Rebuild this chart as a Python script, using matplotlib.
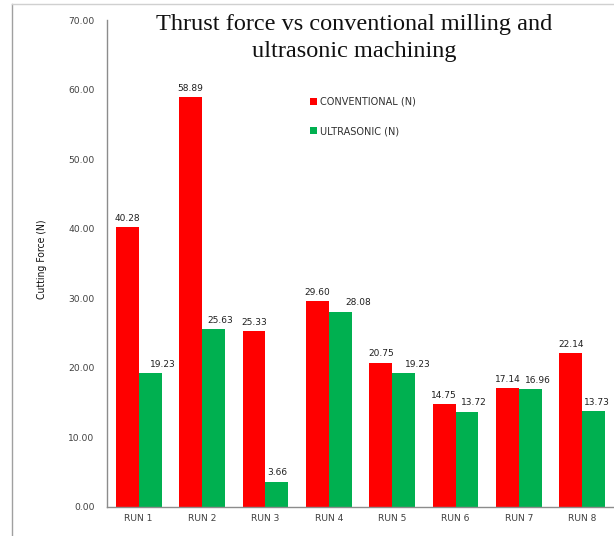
import numpy as np
import matplotlib.pyplot as plt
from matplotlib.lines import Line2D

# datos de las corridas
runs = ['RUN 1', 'RUN 2', 'RUN 3', 'RUN 4', 'RUN 5', 'RUN 6', 'RUN 7', 'RUN 8']
conventional = [40.28, 58.89, 25.33, 29.60, 20.75, 14.75, 17.14, 22.14]
ultrasonic = [19.23, 25.63, 3.66, 28.08, 19.23, 13.72, 16.96, 13.73]
yticks = [0, 10, 20, 30, 40, 50, 60, 70]

# desplazamiento horizontal (px) de las etiquetas verdes
green_dx = [13, 7, 0, 18, 14, 7, 8, 3]

W, H = 614, 536
fig = plt.figure(figsize=(W / 100, H / 100), dpi=100)
ax = fig.add_axes([107 / W, 29 / H, (W - 107) / W, 487 / H])

x = np.arange(len(runs))
w = 0.36
b1 = ax.bar(x - w / 2, conventional, w, color='#ff0000', label='CONVENTIONAL (N)')
b2 = ax.bar(x + w / 2, ultrasonic, w, color='#00b050', label='ULTRASONIC (N)')

for bars, vals, dx in ((b1, conventional, [0] * len(runs)), (b2, ultrasonic, green_dx)):
    for r, v, d in zip(bars, vals, dx):
        ax.annotate('%.2f' % v, (r.get_x() + r.get_width() / 2, v),
                    xytext=(d * 0.72, 3), textcoords='offset points',
                    ha='center', va='bottom', fontsize=6.5, color='#202020')

ax.set_xlim(-0.5, len(runs) - 0.5)
ax.set_ylim(0, 70)
ax.set_yticks(yticks)
ax.set_yticklabels(['%.2f' % t for t in yticks])
ax.set_xticks(x)
ax.set_xticklabels(runs)
ax.tick_params(axis='both', length=0, labelsize=6.6, labelcolor='#404040')
ax.tick_params(axis='y', pad=9)
ax.tick_params(axis='x', pad=5)
for s in ('top', 'right'):
    ax.spines[s].set_visible(False)
for s in ('left', 'bottom'):
    ax.spines[s].set_color('#8c8c8c')
    ax.spines[s].set_linewidth(1)

fig.text(42 / W, 1 - 259 / H, 'Cutting Force (N)', rotation=90,
         ha='center', va='center', fontsize=7.5, color='#101010',
         family=['Liberation Sans Narrow', 'DejaVu Sans'], fontstretch='condensed')

fig.text(354 / W, 1 - 38 / H, 'Thrust force vs conventional milling and\nultrasonic machining',
         ha='center', va='center', fontsize=17.5, family='Liberation Serif',
         linespacing=1.4, color='#111111')

ax.legend(loc='upper left', bbox_to_anchor=(194 / (W - 107), 1 - 68 / 487),
          frameon=False, fontsize=7, handlelength=0.7, handleheight=0.7,
          handletextpad=0.4, labelspacing=2.0, labelcolor='#303030')

# marco exterior
fig.add_artist(Line2D([12 / W, 12 / W], [0, 1 - 4 / H], transform=fig.transFigure,
                      color='#a0a0a0', lw=1))
fig.add_artist(Line2D([12 / W, 1], [1 - 4 / H, 1 - 4 / H], transform=fig.transFigure,
                      color='#d0d0d0', lw=1))

fig.savefig('out.png', dpi=100)
